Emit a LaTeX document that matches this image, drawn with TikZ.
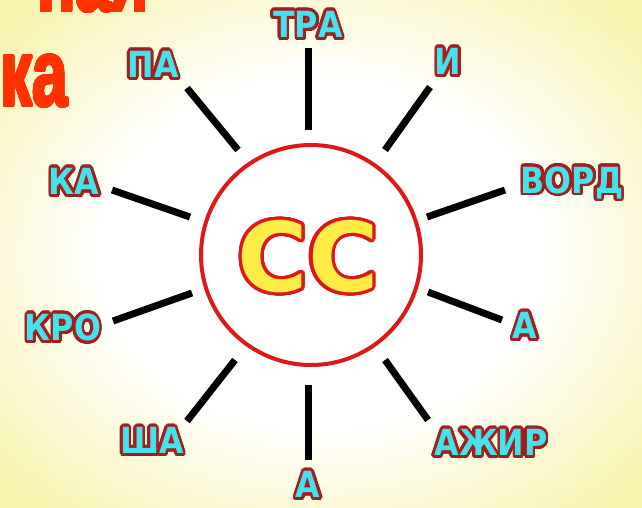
\documentclass[tikz,border=0pt]{standalone}
\usepackage{fontspec}
\setmainfont{DejaVu Sans}
\newfontfamily\titlefont{Liberation Sans}
\usepackage{contour}
\contournumber{32}

\definecolor{bgyellow}{RGB}{247,243,176}
\definecolor{titlered}{RGB}{255,50,0}
\definecolor{ringred}{RGB}{222,24,24}
\definecolor{labcyan}{RGB}{70,225,235}
\definecolor{labred}{RGB}{160,32,32}
\definecolor{ccyellow}{RGB}{255,236,70}

\pgfdeclareradialshading{bgshade}{\pgfpoint{0bp}{0bp}}{color(0bp)=(white); color(17bp)=(white); color(33bp)=(bgyellow); color(50bp)=(bgyellow)}

\newcommand{\lab}[1]{\contourlength{2.9pt}\scalebox{0.88}[1]{\contour{labred}{#1}}}
\newcommand{\ttl}[1]{\contourlength{1.6pt}\scalebox{0.68}[1]{\contour{titlered}{#1}}}

\begin{document}
\begin{tikzpicture}[x=1pt, y=-1pt,
    labtext/.style={text=labcyan, inner sep=0pt, font=\bfseries\fontsize{36}{36}\selectfont},
    titletext/.style={text=titlered, inner sep=0pt, anchor=base east, font=\titlefont\bfseries\fontsize{94}{94}\selectfont},
    spoke/.style={line width=7pt, black}]

    % Background
    \useasboundingbox (0,0) rectangle (642,507);
    \clip (0,0) rectangle (642,507);
    \shade[shading=bgshade] (0,0) rectangle (642,507);

    % Title (cut off at the top)
    \node[titletext] (line1) at (149,11) {\ttl{ная}};
    \node[titletext] (line2) at (68,106) {\ttl{ка}};

    % Central circle
    \node[circle, draw=ringred, line width=4pt, fill=white, minimum size=220pt, inner sep=0pt] (hub) at (311,255) {};
    \node[text=ccyellow, inner sep=0pt, font=\bfseries\fontsize{96}{96}\selectfont] (cc) at (308,258) {\contourlength{3.2pt}\contour{ringred}{СС}};

    % Word parts
    \node[labtext] (tra) at (308,26) {\lab{ТРА}};
    \node[labtext] (i) at (448,63) {\lab{И}};
    \node[labtext] (vord) at (572,184) {\lab{ВОРД}};
    \node[labtext] (aright) at (525,327) {\lab{А}};
    \node[labtext] (azhir) at (491,444) {\lab{АЖИР}};
    \node[labtext] (abottom) at (308,486) {\lab{А}};
    \node[labtext] (sha) at (152,442) {\lab{ША}};
    \node[labtext] (kro) at (63,329) {\lab{КРО}};
    \node[labtext] (ka) at (74,183) {\lab{КА}};
    \node[labtext] (pa) at (153,66) {\lab{ПА}};

    % Spoke ends
    \coordinate (tra-in) at (308,130);   \coordinate (tra-out) at (308,48);
    \coordinate (i-in) at (385,150);     \coordinate (i-out) at (430,87);
    \coordinate (vord-in) at (427,217);  \coordinate (vord-out) at (505,190);
    \coordinate (aright-in) at (428,292); \coordinate (aright-out) at (502,320);
    \coordinate (azhir-in) at (385,360); \coordinate (azhir-out) at (428,420);
    \coordinate (abottom-in) at (308,385); \coordinate (abottom-out) at (308,460);
    \coordinate (sha-in) at (235,360);   \coordinate (sha-out) at (187,421);
    \coordinate (kro-in) at (192,293);   \coordinate (kro-out) at (113,321);
    \coordinate (ka-in) at (190,217);    \coordinate (ka-out) at (112,190);
    \coordinate (pa-in) at (238,150);    \coordinate (pa-out) at (187,88);

    % Spokes
    \draw[spoke] (tra-in) -- (tra-out);
    \draw[spoke] (i-in) -- (i-out);
    \draw[spoke] (vord-in) -- (vord-out);
    \draw[spoke] (aright-in) -- (aright-out);
    \draw[spoke] (azhir-in) -- (azhir-out);
    \draw[spoke] (abottom-in) -- (abottom-out);
    \draw[spoke] (sha-in) -- (sha-out);
    \draw[spoke] (kro-in) -- (kro-out);
    \draw[spoke] (ka-in) -- (ka-out);
    \draw[spoke] (pa-in) -- (pa-out);

\end{tikzpicture}
\end{document}
